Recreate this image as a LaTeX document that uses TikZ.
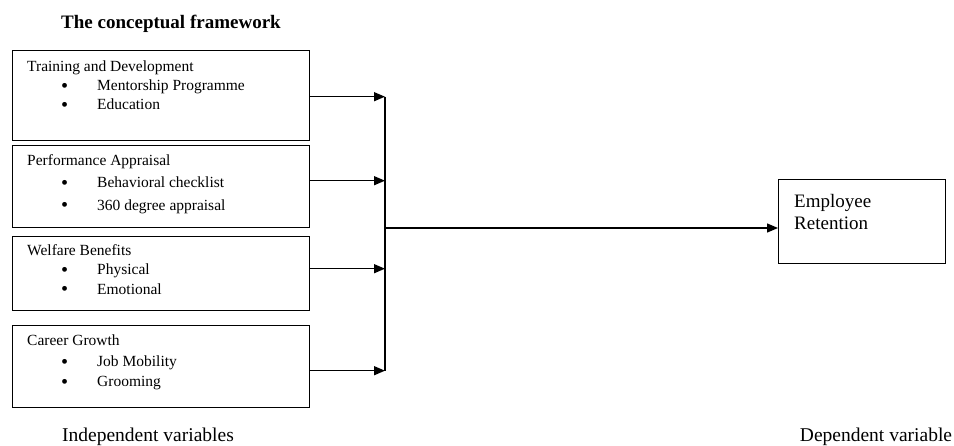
\documentclass[tikz,border=0pt]{standalone}
\usepackage{fontspec}
\setmainfont{Liberation Serif}
\usetikzlibrary{arrows.meta}
\tikzset{
  varbox/.style = {draw, line width=1.4pt, anchor=north west, inner sep=0pt},
  vartext/.style = {anchor=north west, align=left, inner sep=0pt, font=\fontsize{15.5}{19}\selectfont},
  link/.style = {line width=1.4pt},
}
\newcommand{\bul}[1]{\hspace*{34pt}\makebox[36pt][l]{\raisebox{-1.8pt}{\scalebox{1.3}{\textbullet}}}#1}
\begin{document}
\begin{tikzpicture}[x=1pt, y=-1pt, >={Triangle[length=11pt, width=9pt]}]
    \useasboundingbox (0,0) rectangle (954,446);
    \node[font=\fontsize{19}{22}\selectfont\bfseries] (title) at (171,24) {The conceptual framework};
    \node[varbox, minimum width=297pt, minimum height=90pt] (train) at (12,50) {};
    \node[varbox, minimum width=297pt, minimum height=82pt] (apprais) at (12,145) {};
    \node[varbox, minimum width=297pt, minimum height=74pt] (welfare) at (12,236) {};
    \node[varbox, minimum width=297pt, minimum height=82pt] (career) at (12,325) {};
    \node[vartext] at (27,61) {Training and Development\\ \bul{Mentorship Programme}\\ \bul{Education}};
    \node[vartext, font=\fontsize{15.5}{22.5}\selectfont] at (27,154) {Performance Appraisal\\ \bul{Behavioral checklist}\\ \bul{360 degree appraisal}};
    \node[vartext, font=\fontsize{15.5}{19.5}\selectfont] at (27,244) {Welfare Benefits\\ \bul{Physical}\\ \bul{Emotional}};
    \node[vartext, font=\fontsize{15.5}{20.5}\selectfont] at (27,335) {Career Growth\\ \bul{Job Mobility}\\ \bul{Grooming}};
    \node[varbox, minimum width=167pt, minimum height=84pt] (retain) at (778,179) {};
    \node[vartext, font=\fontsize{19}{22}\selectfont] at (794,194) {Employee\\ Retention};
    \coordinate (bus) at (385,0);
    \coordinate (hub) at (385,228);
    \foreach \b/\s in {train/-1, apprais/6, welfare/5, career/-4}
        \draw[link, ->] ([yshift=\s pt]\b.east) -- ([yshift=\s pt]\b.east -| bus);
    \draw[link] ([yshift=-1pt]train.east -| bus) -- ([yshift=-4pt]career.east -| bus);
    \draw[link, ->] (hub) -- (hub -| retain.west);
    \node[font=\fontsize{19.5}{22}\selectfont] (indep) at (148,437) {Independent variables};
    \node[font=\fontsize{19.5}{22}\selectfont] (dep) at (876,437) {Dependent variable};
\end{tikzpicture}
\end{document}
